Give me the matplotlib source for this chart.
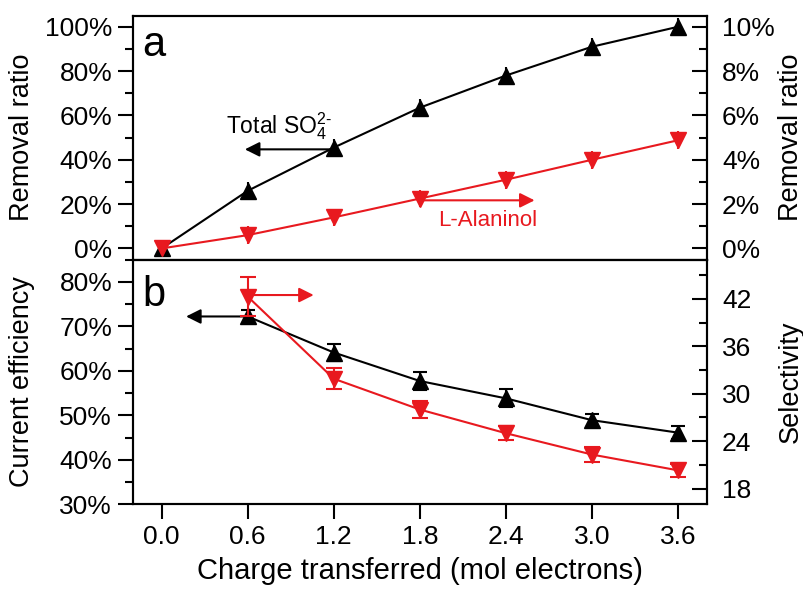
"""Removal ratio / current efficiency vs charge transferred."""
import matplotlib
matplotlib.use('Agg')
from matplotlib import pyplot as plt
from matplotlib.ticker import MultipleLocator, FuncFormatter

plt.rcParams['font.family'] = ['Liberation Sans', 'DejaVu Sans']
plt.rcParams['mathtext.fontset'] = 'custom'
plt.rcParams['mathtext.rm'] = 'Liberation Sans'
plt.rcParams['mathtext.it'] = 'Liberation Sans:italic'
plt.rcParams['axes.linewidth'] = 1.5

RED = '#e8191f'

charge = [0.0, 0.6, 1.2, 1.8, 2.4, 3.0, 3.6]

# panel a
so4Removal = [0.0, 26.0, 45.5, 63.5, 78.0, 91.0, 100.0]
so4RemovalErr = [1.0, 4.0, 4.0, 4.0, 4.0, 4.0, 4.0]
alaninolRemoval = [0.0, 0.6, 1.4, 2.25, 3.1, 4.0, 4.88]
alaninolRemovalErr = [0.3, 0.4, 0.4, 0.4, 0.4, 0.4, 0.4]

# panel b
chargeB = [0.6, 1.2, 1.8, 2.4, 3.0, 3.6]
currentEff = [72.2, 64.1, 57.7, 53.8, 48.9, 46.1]
currentEffErr = [1.5, 2.0, 2.0, 2.0, 1.5, 1.5]
selectivity = [42.3, 31.9, 28.0, 25.0, 22.3, 20.3]
selectivityErr = [2.5, 1.3, 1.05, 0.9, 0.9, 0.85]


def pct(v, pos):
    return '{:.0f}%'.format(v)


def styleAxis(ax, side):
    ax.tick_params(axis='y', which='major', length=11, width=1.5, labelsize=19)
    ax.tick_params(axis='y', which='minor', length=6, width=1.5)
    if side == 'left':
        ax.tick_params(axis='y', which='both', direction='out', pad=4)
    else:
        ax.tick_params(axis='y', which='both', direction='in', pad=11)


fig = plt.figure(figsize=(8.04, 6.01), dpi=100)
W = 804.
H = 601.
axA = fig.add_axes([133 / W, 1 - 259.5 / H, 573.7 / W, 243.8 / H])
axB = fig.add_axes([133 / W, 1 - 504.3 / H, 573.7 / W, 244.8 / H], sharex=axA)
axA2 = axA.twinx()
axB2 = axB.twinx()

markerSize = 12
# ---- panel a
axA.errorbar(charge, so4Removal, yerr=so4RemovalErr, fmt='-^', color='k', lw=1.5,
             ms=markerSize, elinewidth=1.5, capsize=0, zorder=3)
axA2.errorbar(charge, alaninolRemoval, yerr=alaninolRemovalErr, fmt='-v', color=RED, lw=1.5,
              ms=markerSize, elinewidth=1.5, capsize=0, zorder=3)
axA.set_ylim(-5, 105)
axA2.set_ylim(-0.5, 10.5)
axA.yaxis.set_major_locator(MultipleLocator(20))
axA.yaxis.set_minor_locator(MultipleLocator(10))
axA2.yaxis.set_major_locator(MultipleLocator(2))
axA2.yaxis.set_minor_locator(MultipleLocator(1))
axA.yaxis.set_major_formatter(FuncFormatter(pct))
axA2.yaxis.set_major_formatter(FuncFormatter(pct))
axA.set_ylabel('Removal ratio', fontsize=19.5)
axA2.set_ylabel('Removal ratio', fontsize=19.5, rotation=90)
axA.yaxis.set_label_coords(-0.171, 0.5)
axA2.yaxis.set_label_coords(1.124, 0.5)
axA.text(0.016, 0.88, 'a', transform=axA.transAxes, fontsize=30, va='center', ha='left')

axA.annotate('', xy=(0.58, 44.7), xytext=(1.2, 44.7),
             arrowprops=dict(arrowstyle='-|>', color='k', lw=1.5, mutation_scale=22,
                             shrinkA=0, shrinkB=0))
axA.text(0.45, 55, 'Total SO$_4^{2\\text{-}}$', fontsize=16.5, ha='left', va='center')
axA2.annotate('', xy=(2.6, 2.17), xytext=(1.8, 2.17),
              arrowprops=dict(arrowstyle='-|>', color=RED, lw=1.5, mutation_scale=22,
                              shrinkA=0, shrinkB=0))
axA2.text(1.93, 1.26, 'L-Alaninol', fontsize=16, color=RED, ha='left', va='center')

# ---- panel b
axB.errorbar(chargeB, currentEff, yerr=currentEffErr, fmt='-^', color='k', lw=1.5,
             ms=markerSize, elinewidth=1.5, capsize=5, capthick=1.5, zorder=3)
axB2.errorbar(chargeB, selectivity, yerr=selectivityErr, fmt='-v', color=RED, lw=1.5,
              ms=markerSize, elinewidth=1.5, capsize=6, capthick=1.5, zorder=3)
axB.set_ylim(30, 85)
axB2.set_ylim(16, 47)
axB.yaxis.set_major_locator(MultipleLocator(10))
axB.yaxis.set_minor_locator(MultipleLocator(5))
axB2.yaxis.set_major_locator(MultipleLocator(6))
axB2.yaxis.set_minor_locator(MultipleLocator(3))
axB.yaxis.set_major_formatter(FuncFormatter(pct))
axB.set_ylabel('Current efficiency', fontsize=19.5)
axB2.set_ylabel('Selectivity', fontsize=19.5)
axB.yaxis.set_label_coords(-0.171, 0.5)
axB2.yaxis.set_label_coords(1.124, 0.5)
axB.text(0.016, 0.855, 'b', transform=axB.transAxes, fontsize=30, va='center', ha='left')

axB.annotate('', xy=(0.17, 72.2), xytext=(0.6, 72.2),
             arrowprops=dict(arrowstyle='-|>', color='k', lw=1.5, mutation_scale=22,
                             shrinkA=0, shrinkB=0))
axB2.annotate('', xy=(1.06, 42.5), xytext=(0.6, 42.5),
              arrowprops=dict(arrowstyle='-|>', color=RED, lw=1.5, mutation_scale=22,
                              shrinkA=0, shrinkB=0))

# x axis
axB.set_xlim(-0.2, 3.8)
axB.set_xticks(charge)
axB.xaxis.set_major_formatter(FuncFormatter(lambda v, p: '{:.1f}'.format(v)))
for ax in (axA, axB):
    ax.tick_params(axis='x', direction='out', length=11, width=1.5, labelsize=19, pad=4)
axA.tick_params(axis='x', labelbottom=False)
axB.set_xlabel('Charge transferred (mol electrons)', fontsize=21, labelpad=6)

styleAxis(axA, 'left')
styleAxis(axB, 'left')
styleAxis(axA2, 'right')
styleAxis(axB2, 'right')

plt.savefig('out.png', dpi=100)
plt.close()
